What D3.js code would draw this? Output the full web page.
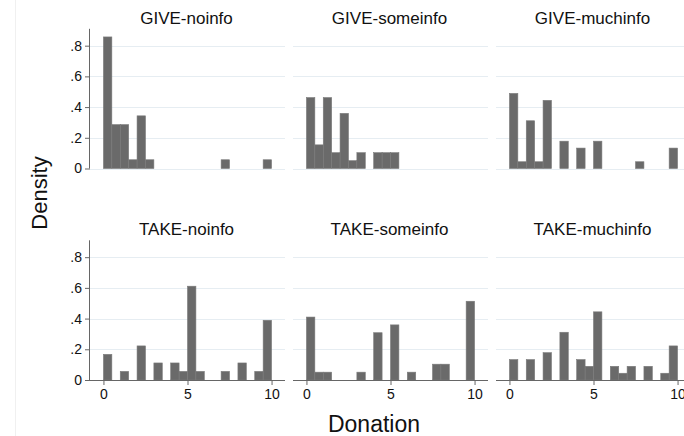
<!DOCTYPE html>
<html>
<head>
<meta charset="utf-8">
<script src="https://cdn.jsdelivr.net/npm/d3@7"></script>
<style>
  html, body { margin: 0; padding: 0; background: #fff; }
  svg { display: block; font-family: "Liberation Sans", Arial, sans-serif; }
</style>
</head>
<body>
<svg id="chart" width="684" height="436"></svg>
<script>
// Histogram bins: width 0.5, left edges 0, 0.5, ..., 9.5
const binStarts = d3.range(20).map(i => i * 0.5);
const binWidth = 0.5;

const panelTitles = ["GIVE-noinfo", "GIVE-someinfo", "GIVE-muchinfo",
                     "TAKE-noinfo", "TAKE-someinfo", "TAKE-muchinfo"];

// Density per bin
const giveNoinfo   = [0.857, 0.286, 0.286, 0.057, 0.343, 0.057, 0, 0, 0, 0,
                      0, 0, 0, 0, 0.057, 0, 0, 0, 0, 0.057];
const giveSomeinfo = [0.462, 0.154, 0.462, 0.103, 0.359, 0.051, 0.103, 0, 0.103, 0.103,
                      0.103, 0, 0, 0, 0, 0, 0, 0, 0, 0];
const giveMuchinfo = [0.489, 0.044, 0.311, 0.044, 0.444, 0, 0.178, 0, 0.133, 0,
                      0.178, 0, 0, 0, 0, 0.044, 0, 0, 0, 0.133];
const takeNoinfo   = [0.167, 0, 0.056, 0, 0.222, 0, 0.111, 0, 0.111, 0.056,
                      0.611, 0.056, 0, 0, 0.056, 0, 0.111, 0, 0.056, 0.389];
const takeSomeinfo = [0.410, 0.051, 0.051, 0, 0, 0, 0.051, 0, 0.308, 0,
                      0.359, 0, 0.051, 0, 0, 0.103, 0.103, 0, 0, 0.513];
const takeMuchinfo = [0.133, 0, 0.133, 0, 0.178, 0, 0.311, 0, 0.133, 0.089,
                      0.444, 0, 0.089, 0.044, 0.089, 0, 0.089, 0, 0.044, 0.222];

const panelValues = [giveNoinfo, giveSomeinfo, giveMuchinfo,
                     takeNoinfo, takeSomeinfo, takeMuchinfo];

const yTicks = [0, 0.2, 0.4, 0.6, 0.8];
const xTicks = [0, 5, 10];

const svg = d3.select("#chart");

// faint outer frame line on the left
svg.append("line")
  .attr("x1", 15.5).attr("x2", 15.5).attr("y1", 0).attr("y2", 436)
  .attr("stroke", "#f0f0f0").attr("stroke-width", 1);

const colLeft = [90, 293, 496];
const plotW = 195;
const rowBase = [168.5, 380];
const plotH = 139.7;
const yMax = 0.91;

const fmt = v => v === 0 ? "0" : d3.format(".1f")(v).replace(/^0/, "");

panelValues.forEach((vals, p) => {
  const row = Math.floor(p / 3), col = p % 3;
  const left = colLeft[col];
  const base = rowBase[row];

  const x = d3.scaleLinear().domain([-0.8, 10.8]).range([left, left + plotW]);
  const y = d3.scaleLinear().domain([0, yMax]).range([base, base - plotH]);

  const g = svg.append("g");

  // grid lines
  const gridVals = row === 0 ? yTicks : yTicks.slice(1);
  g.selectAll("line.grid").data(gridVals).enter().append("line")
    .attr("class", "grid")
    .attr("x1", left).attr("x2", left + plotW)
    .attr("y1", d => Math.round(y(d)) + 0.5).attr("y2", d => Math.round(y(d)) + 0.5)
    .attr("stroke", "#e6edf2").attr("stroke-width", 1);

  // bars
  const bars = binStarts.map((s, i) => ({ s, v: vals[i] })).filter(d => d.v > 0);
  g.selectAll("rect.bar").data(bars).enter().append("rect")
    .attr("class", "bar")
    .attr("x", d => x(d.s))
    .attr("width", d => x(d.s + binWidth) - x(d.s))
    .attr("y", d => y(d.v))
    .attr("height", d => y(0) - y(d.v))
    .attr("fill", "#6a6a6a")
    .attr("stroke", "#7a7a7a")
    .attr("stroke-width", 0.6);

  // y axis on the first column
  if (col === 0) {
    const ya = d3.axisLeft(y).tickValues(yTicks).tickFormat(fmt)
      .tickSize(5).tickPadding(3);
    const ag = g.append("g").attr("transform", `translate(${left},0)`).call(ya);
    ag.select(".domain").attr("stroke", "#666").attr("d", `M-0.5,${base}V${base - plotH}`);
    ag.selectAll(".tick line").attr("stroke", "#666");
    ag.selectAll(".tick text").attr("fill", "#111").style("font-size", "14px")
      .style("font-family", "'Liberation Sans', Arial, sans-serif");
  }

  // x axis on the bottom row
  if (row === 1) {
    const xa = d3.axisBottom(x).tickValues(xTicks).tickFormat(d3.format("d"))
      .tickSize(5).tickPadding(4);
    const ag = g.append("g").attr("transform", `translate(0,${base})`).call(xa);
    ag.select(".domain").attr("stroke", "#666").attr("d", `M${left},0.5H${left + plotW}`);
    ag.selectAll(".tick line").attr("stroke", "#666");
    ag.selectAll(".tick text").attr("fill", "#111").style("font-size", "14px")
      .style("font-family", "'Liberation Sans', Arial, sans-serif");
  }

  // panel title
  svg.append("text")
    .attr("x", left + plotW / 2 - 1)
    .attr("y", row === 0 ? 24 : 235)
    .attr("text-anchor", "middle")
    .attr("fill", "#111")
    .style("font-size", "17px")
    .text(panelTitles[p]);
});

// axis titles
svg.append("text")
  .attr("transform", "translate(47,193) rotate(-90)")
  .attr("text-anchor", "middle")
  .attr("fill", "#111")
  .style("font-size", "22px")
  .text("Density");

svg.append("text")
  .attr("x", 374).attr("y", 432)
  .attr("text-anchor", "middle")
  .attr("fill", "#111")
  .style("font-size", "23px")
  .text("Donation");
</script>
</body>
</html>
